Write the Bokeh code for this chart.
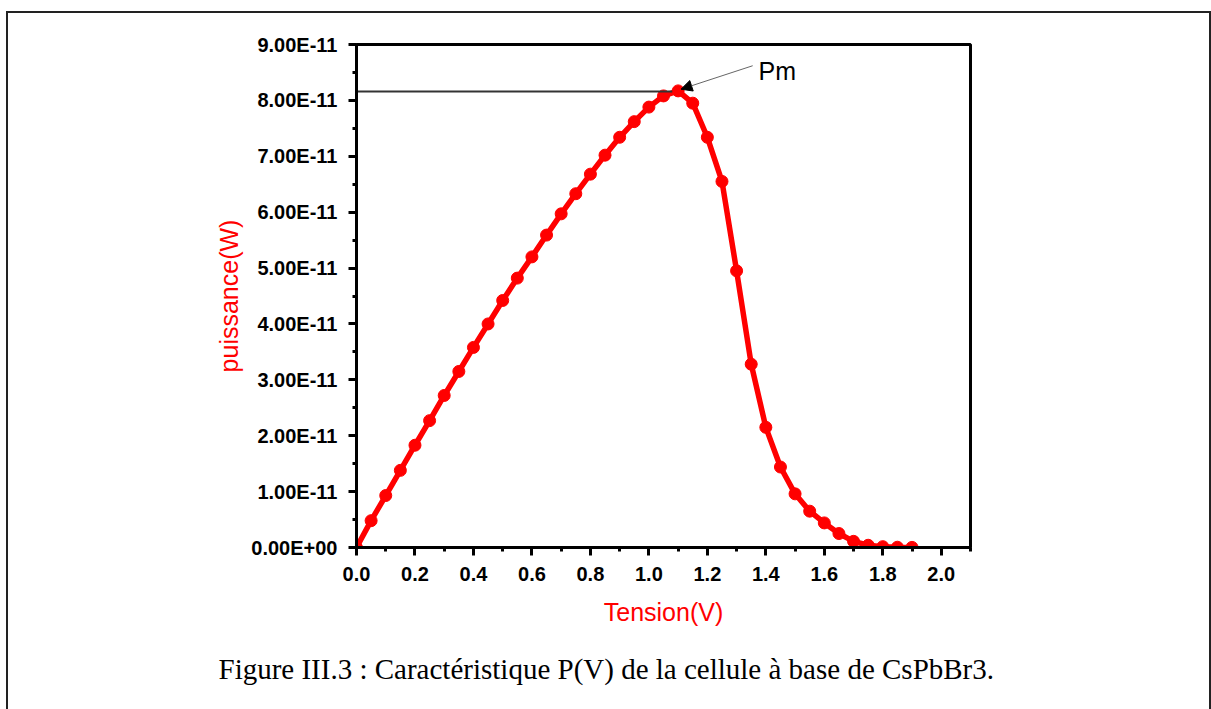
from bokeh.plotting import figure
from bokeh.embed import file_html
from bokeh.resources import INLINE
from bokeh.models import (SingleIntervalTicker, NumeralTickFormatter, CustomJSTickFormatter,
                          Label, Arrow, NormalHead, Range1d, Title, InlineStyleSheet)

# ---- data ----
tension = [0.00, 0.05, 0.10, 0.15, 0.20, 0.25, 0.30, 0.35, 0.40, 0.45,
           0.50, 0.55, 0.60, 0.65, 0.70, 0.75, 0.80, 0.85, 0.90, 0.95,
           1.00, 1.05, 1.10, 1.15, 1.20, 1.25, 1.30, 1.35, 1.40, 1.45,
           1.50, 1.55, 1.60, 1.65, 1.70, 1.75, 1.80, 1.85, 1.90]
puissance_e11 = [0.00, 0.48, 0.93, 1.38, 1.83, 2.27, 2.72, 3.15, 3.58, 4.00,
                 4.42, 4.82, 5.20, 5.59, 5.97, 6.33, 6.68, 7.02, 7.34, 7.62,
                 7.88, 8.08, 8.17, 7.95, 7.34, 6.55, 4.95, 3.28, 2.15, 1.44,
                 0.96, 0.65, 0.44, 0.25, 0.11, 0.04, 0.015, 0.005, 0.002]
puissance = [v * 1e-11 for v in puissance_e11]
pm_v = 1.10
pm_p = 8.17e-11
x_label = "Tension(V)"
y_label = "puissance(W)"
caption = "Figure III.3 : Caractéristique P(V) de la cellule à base de CsPbBr3."

FL, FR, FT, FB = 356, 970, 44, 547
W, H = 1211, 709

p = figure(width=W, height=H, output_backend="svg", toolbar_location=None,
           x_range=Range1d(0, 2.1), y_range=Range1d(0, 9e-11),
           min_border_left=FL, min_border_right=W - FR,
           min_border_top=FT, min_border_bottom=H - FB)
p.grid.visible = False
p.outline_line_color = "black"
p.outline_line_width = 3
p.background_fill_color = "white"
p.border_fill_color = "white"

# axes
for ax in (p.xaxis[0], p.yaxis[0]):
    ax.axis_line_width = 3
    ax.major_tick_line_width = 3
    ax.minor_tick_line_width = 3
    ax.major_tick_out = 8
    ax.major_tick_in = 0
    ax.minor_tick_out = 4
    ax.minor_tick_in = 0
    ax.major_label_text_font = "Liberation Sans"
    ax.major_label_text_font_style = "bold"
    ax.major_label_text_font_size = "20px"
    ax.major_label_text_color = "black"
    ax.axis_label_text_font = "Liberation Sans"
    ax.axis_label_text_font_style = "normal"
    ax.axis_label_text_font_size = "25px"
    ax.axis_label_text_color = "#ff0000"

p.xaxis.ticker = SingleIntervalTicker(interval=0.2, num_minor_ticks=2)
p.xaxis.formatter = NumeralTickFormatter(format="0.0")
p.xaxis.axis_label = x_label
p.xaxis.major_label_standoff = 11
p.xaxis.axis_label_standoff = 14

p.yaxis.ticker = SingleIntervalTicker(interval=1e-11, num_minor_ticks=2)
p.yaxis.formatter = CustomJSTickFormatter(code="""
const s = tick.toExponential(2).toUpperCase();
const parts = s.split("E");
let e = parts[1];
const sign = e[0];
let d = e.slice(1);
if (d.length < 2) d = "0" + d;
return parts[0] + "E" + sign + d;
""")
p.yaxis.axis_label = y_label
p.yaxis.major_label_standoff = 11
p.yaxis.axis_label_standoff = 5

# curve
p.line(tension, puissance, line_color="#ff0000", line_width=5.5)
p.scatter(tension, puissance, size=12, fill_color="#ff0000", line_color="#ff0000")

# Pm marker line and arrow
p.segment(x0=[0], y0=[pm_p * 0.9985], x1=[pm_v - 0.02], y1=[pm_p * 0.9985],
          line_color="#333333", line_width=2)
p.add_layout(Arrow(end=NormalHead(size=11, fill_color="black", line_color="black"),
                   x_start=1.355, y_start=8.62e-11, x_end=1.11, y_end=8.2e-11,
                   line_color="#666666", line_width=1))
p.add_layout(Label(x=1.375, y=8.53e-11, text="Pm", text_font="Liberation Sans",
                   text_font_size="25px", text_baseline="middle", text_align="left",
                   text_color="black"))

# caption below the chart
p.add_layout(Title(text=caption, align="left", offset=218 - FL, standoff=45,
                   text_font="Liberation Serif", text_font_size="29px",
                   text_line_height=0.8,
                   text_font_style="normal", text_color="black"), "below")

# outer page frame (decorative border of the document figure box)
p.stylesheets = [InlineStyleSheet(css="""
:host { position: relative; }
:host::after {
  content: "";
  position: absolute;
  left: 6px; top: 11px;
  width: 1205px; height: 760px;
  border: 2px solid #222222;
  pointer-events: none;
  box-sizing: border-box;
}
""")]

open("out.html", "w").write(file_html(p, INLINE))
